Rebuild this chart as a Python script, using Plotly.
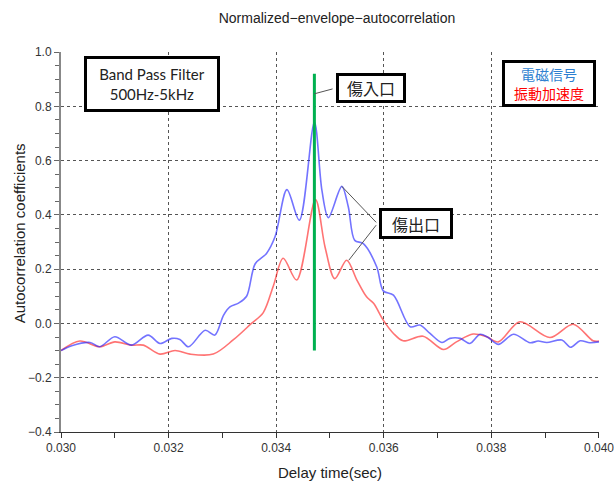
import plotly.graph_objects as go

# ---- data ----
blue_x = [0.03000, 0.03020, 0.03054, 0.03072, 0.03100, 0.03131, 0.03162, 0.03184, 0.03206, 0.03221,
          0.03237, 0.03268, 0.03286, 0.03302, 0.03314, 0.03330, 0.03345, 0.03361, 0.03382, 0.03398,
          0.03420, 0.03443, 0.03471, 0.03485, 0.03497, 0.03522, 0.03534, 0.03546, 0.03562, 0.03587,
          0.03599, 0.03618, 0.03649, 0.03667, 0.03686, 0.03708, 0.03723, 0.03742, 0.03760, 0.03779,
          0.03794, 0.03813, 0.03841, 0.03872, 0.03887, 0.03903, 0.03931, 0.03947, 0.03965, 0.03983,
          0.04000]
blue_y = [-0.100, -0.082, -0.070, -0.086, -0.049, -0.080, -0.043, -0.074, -0.055, -0.059,
          -0.086, -0.025, -0.043, 0.030, 0.061, 0.075, 0.100, 0.220, 0.258, 0.320,
          0.493, 0.380, 0.742, 0.490, 0.390, 0.505, 0.430, 0.306, 0.294, 0.208,
          0.120, 0.104, -0.012, -0.006, -0.037, -0.070, -0.055, -0.055, -0.074, -0.040,
          -0.052, -0.077, -0.040, -0.071, -0.065, -0.070, -0.061, -0.088, -0.064, -0.071,
          -0.068]

red_x = [0.03000, 0.03035, 0.03072, 0.03100, 0.03131, 0.03153, 0.03184, 0.03212, 0.03240, 0.03283,
         0.03320, 0.03354, 0.03376, 0.03395, 0.03413, 0.03438, 0.03473, 0.03491, 0.03509, 0.03531,
         0.03550, 0.03568, 0.03581, 0.03599, 0.03618, 0.03636, 0.03673, 0.03711, 0.03735, 0.03766,
         0.03791, 0.03813, 0.03853, 0.03909, 0.03952, 0.03989, 0.04000]
red_y = [-0.100, -0.065, -0.086, -0.068, -0.080, -0.080, -0.113, -0.100, -0.113, -0.113,
         -0.061, 0.000, 0.040, 0.140, 0.240, 0.160, 0.456, 0.280, 0.165, 0.233,
         0.160, 0.098, 0.074, 0.012, -0.037, -0.064, -0.047, -0.096, -0.068, -0.039,
         -0.049, -0.068, 0.006, -0.052, -0.003, -0.064, -0.065]

marker_x = [0.03471, 0.03471]
marker_y = [-0.10, 0.92]

x_ticks = [0.030, 0.032, 0.034, 0.036, 0.038, 0.040]
x_labels = ["0.030", "0.032", "0.034", "0.036", "0.038", "0.040"]
y_ticks = [-0.4, -0.2, 0.0, 0.2, 0.4, 0.6, 0.8, 1.0]
y_labels = ["\u22120.4", "\u22120.2", "0.0", "0.2", "0.4", "0.6", "0.8", "1.0"]

title_text = "Normalized\u2212envelope\u2212autocorrelation"
x_title = "Delay time(sec)"
y_title = "Autocorrelation coefficients"

L, R, T, B = 61, 599, 51.5, 432
PW, PH = R - L, B - T


def px(xp):
    return (xp - L) / PW


def py(yp):
    return (B - yp) / PH


fig = go.Figure()
fig.add_trace(go.Scatter(x=red_x, y=red_y, mode="lines", name="振動加速度",
                         line=dict(color="rgba(255,40,40,0.65)", width=1.6, shape="spline", smoothing=0.9)))
fig.add_trace(go.Scatter(x=blue_x, y=blue_y, mode="lines", name="電磁信号",
                         line=dict(color="rgba(40,40,255,0.65)", width=1.6, shape="spline", smoothing=0.9)))
fig.add_trace(go.Scatter(x=marker_x, y=marker_y, mode="lines", name="marker",
                         line=dict(color="#00b050", width=3)))

axis_font = dict(family="Liberation Sans", size=12, color="#333")

fig.update_layout(
    width=614, height=481,
    margin=dict(l=L, r=614 - R, t=T, b=481 - B),
    paper_bgcolor="white", plot_bgcolor="white",
    showlegend=False,
    title=dict(text=title_text, x=0.513, xref="paper", xanchor="center",
               y=1 - 18 / 481, yref="container", yanchor="middle",
               font=dict(family="Liberation Sans", size=14, color="#222")),
    xaxis=dict(range=[0.030, 0.0400005], tickmode="array", tickvals=x_ticks, ticktext=x_labels,
               showgrid=True, gridcolor="#555", griddash="dot", gridwidth=1,
               zeroline=False, showline=True, linecolor="#333", linewidth=1,
               ticks="outside", ticklen=5, tickcolor="#333", automargin=False,
               ticklabeloverflow="allow",
               minor=dict(tickmode="linear", tick0=0.031, dtick=0.002, ticks="outside", ticklen=5,
                          tickcolor="#333", showgrid=False),
               tickfont=axis_font,
               title=dict(text=x_title, font=dict(family="Liberation Sans", size=15, color="#222"), standoff=18)),
    yaxis=dict(range=[-0.4, 1.00005], tickmode="array", tickvals=y_ticks, ticktext=y_labels,
               showgrid=True, gridcolor="#555", griddash="dot", gridwidth=1,
               zeroline=False, showline=True, linecolor="#888", linewidth=2,
               ticks="outside", ticklen=5, tickcolor="#666", automargin=False,
               minor=dict(tickmode="linear", tick0=-0.4, dtick=0.05, ticks="outside", ticklen=4,
                          tickcolor="#666", showgrid=False),
               tickfont=axis_font),
)

# y axis title
fig.add_annotation(xref="paper", yref="paper", x=px(19), y=py(233), xanchor="center", yanchor="middle",
                   text=y_title, textangle=-90, showarrow=False,
                   font=dict(family="Liberation Sans", size=15, color="#222"))

# Band pass filter box
fig.add_annotation(xref="paper", yref="paper", x=px(152), y=py(84), xanchor="center", yanchor="middle",
                   text="Band Pass Filter<br>500Hz-5kHz", showarrow=False,
                   font=dict(family="Lato", size=15, color="#222"),
                   bgcolor="white", bordercolor="black", borderwidth=3, borderpad=4,
                   width=122, height=42, align="center")

# legend box
fig.add_annotation(xref="paper", yref="paper", x=px(548.7), y=py(83.5), xanchor="center", yanchor="middle",
                   text="<span style='color:#2e7fd0'>電磁信号</span><br><span style='color:#ff0000'>振動加速度</span>",
                   showarrow=False, font=dict(family="Noto Sans CJK JP", size=14),
                   bgcolor="white", bordercolor="black", borderwidth=3, borderpad=2,
                   width=84, height=37, align="center")

# 傷入口
fig.add_annotation(x=0.03471, y=0.846, xref="x", yref="y", text="", showarrow=True,
                   arrowhead=0, arrowwidth=1, arrowcolor="#555", axref="pixel", ayref="pixel",
                   ax=334 - 314.3, ay=88 - 93.3)
fig.add_annotation(xref="paper", yref="paper", x=px(371), y=py(87.7), xanchor="center", yanchor="middle",
                   text="傷入口", showarrow=False, font=dict(family="Noto Sans CJK JP", size=16, color="#222"),
                   bgcolor="white", bordercolor="black", borderwidth=3, borderpad=1,
                   width=62, height=22)

# 傷出口
fig.add_annotation(x=0.03522, y=0.505, xref="x", yref="y", text="", showarrow=True,
                   arrowhead=0, arrowwidth=1, arrowcolor="#555", axref="pixel", ayref="pixel",
                   ax=377.5 - 341.7, ay=223.5 - 186)
fig.add_annotation(x=0.03535, y=0.233, xref="x", yref="y", text="", showarrow=True,
                   arrowhead=0, arrowwidth=1, arrowcolor="#555", axref="pixel", ayref="pixel",
                   ax=377.5 - 349, ay=223.5 - 260)
fig.add_annotation(xref="paper", yref="paper", x=px(415.8), y=py(223.5), xanchor="center", yanchor="middle",
                   text="傷出口", showarrow=False, font=dict(family="Noto Sans CJK JP", size=16, color="#222"),
                   bgcolor="white", bordercolor="black", borderwidth=3, borderpad=1,
                   width=66, height=23)

fig.write_html("out.html")
